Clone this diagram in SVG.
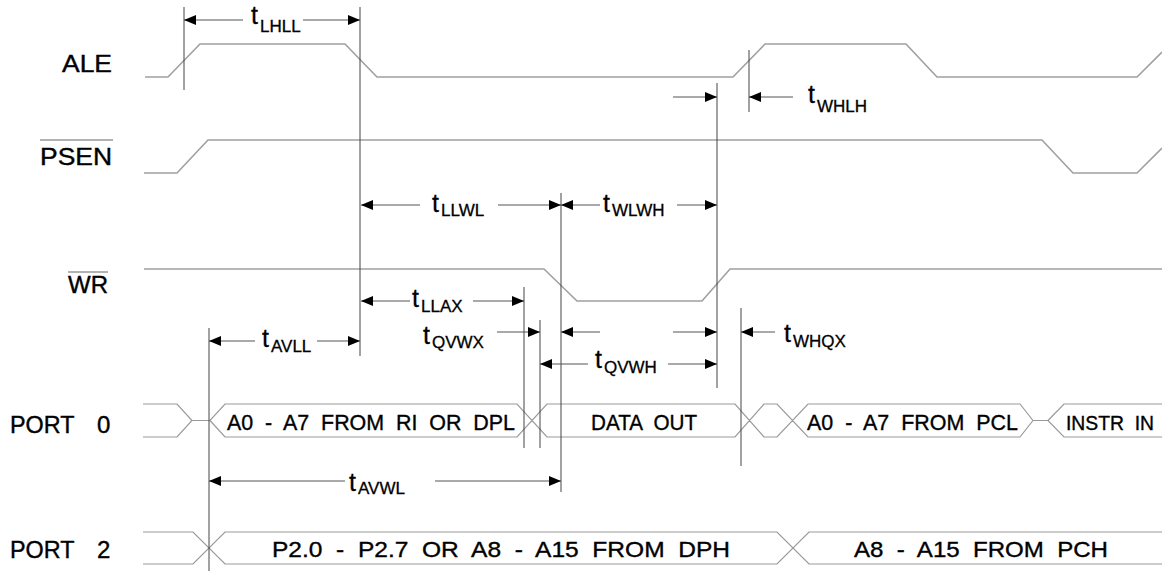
<svg xmlns="http://www.w3.org/2000/svg" width="1162" height="571" viewBox="0 0 1162 571">
<style>
.sig{fill:none;stroke:#a0a0a0;stroke-width:1.6}
.bus{fill:none;stroke:#999;stroke-width:1.2}
.vl{stroke:#444;stroke-width:1}
.sh{stroke:#555;stroke-width:1;fill:none}
.lbl{font-family:"Liberation Sans",Arial,sans-serif;font-size:24px;fill:#000;stroke:#000;stroke-width:0.4}
.bt{font-family:"Liberation Sans",Arial,sans-serif;font-size:22px;fill:#000;stroke:#000;stroke-width:0.35}
.t{font-family:"Liberation Sans",Arial,sans-serif;font-size:25px;fill:#000;stroke:#000;stroke-width:0.3}
.s{font-family:"Liberation Sans",Arial,sans-serif;font-size:17px;fill:#000;stroke:#000;stroke-width:0.3}
.ob{stroke:#999;stroke-width:1.5}
</style>
<defs>
<marker id="ah" markerUnits="userSpaceOnUse" markerWidth="12" markerHeight="10" refX="12" refY="5" orient="auto-start-reverse">
<path d="M0,0 L12,5 L0,10 z" fill="#000"/>
</marker>
</defs>
<rect width="1162" height="571" fill="#fff"/>

<g id="ALE">
<text class="lbl" x="112" y="72" text-anchor="end" textLength="50" lengthAdjust="spacingAndGlyphs">ALE</text>
<polyline class="sig" points="145,77 168,77 200,44 345,44 377,77 733,77 765,44 906,44 937,77 1137,77 1162,52"/>
</g>
<g id="PSEN">
<line class="ob" x1="40" y1="140" x2="113" y2="140"/>
<text class="lbl" x="40" y="165" textLength="72" lengthAdjust="spacingAndGlyphs">PSEN</text>
<polyline class="sig" points="144,173 177,173 208,140 1042,140 1073,173 1137,173 1162,148"/>
</g>
<g id="WR">
<line class="ob" x1="68" y1="272" x2="108" y2="272"/>
<text class="lbl" x="68" y="293" textLength="40" lengthAdjust="spacingAndGlyphs">WR</text>
<polyline class="sig" points="144,269 544,269 577,301 702,301 730,269 1162,269"/>
</g>
<g id="PORT0">
<text class="lbl" x="10" y="433"><tspan textLength="64" lengthAdjust="spacingAndGlyphs">PORT</tspan> <tspan x="97">0</tspan></text>
<path class="bus" d="M143,404 L177,404 L192,420.5 L177,437 L143,437 M192,420.5 L210,420.5 L225,404 L517,404 L547,437 L735,437 L764,404 L777,404 L808,437 L1020,437 L1033,420.5 L1048,420.5 L1064,437 L1162,437 M210,420.5 L225,437 L517,437 L547,404 L735,404 L764,437 L777,437 L808,404 L1020,404 L1033,420.5 M1048,420.5 L1064,404 L1162,404"/>
<text class="bt" x="227" y="430" textLength="288" lengthAdjust="spacingAndGlyphs" xml:space="preserve">A0  -  A7  FROM  RI  OR  DPL</text>
<text class="bt" x="591" y="430" textLength="106" lengthAdjust="spacingAndGlyphs" xml:space="preserve">DATA  OUT</text>
<text class="bt" x="807" y="430" textLength="211" lengthAdjust="spacingAndGlyphs" xml:space="preserve">A0  -  A7  FROM  PCL</text>
<text class="bt" x="1066" y="430" style="font-size:20px" textLength="88" lengthAdjust="spacingAndGlyphs" xml:space="preserve">INSTR  IN</text>
</g>
<g id="PORT2">
<text class="lbl" x="10" y="558"><tspan textLength="64" lengthAdjust="spacingAndGlyphs">PORT</tspan> <tspan x="97">2</tspan></text>
<path class="bus" d="M143,532 L193,532 L225,564 L777,564 L809,532 L1162,532 M143,564 L193,564 L225,532 L777,532 L809,564 L1162,564"/>
<text class="bt" x="272" y="557" textLength="458" lengthAdjust="spacingAndGlyphs" xml:space="preserve">P2.0  -  P2.7  OR  A8  -  A15  FROM  DPH</text>
<text class="bt" x="854" y="557" textLength="254" lengthAdjust="spacingAndGlyphs" xml:space="preserve">A8  -  A15  FROM  PCH</text>
</g>

<g id="connectors">
<line class="vl" x1="184" y1="7" x2="184" y2="90"/>
<line class="vl" x1="360" y1="7" x2="360" y2="356"/>
<line class="vl" x1="749" y1="50" x2="749" y2="112"/>
<line class="vl" x1="717" y1="83" x2="717" y2="388"/>
<line class="vl" x1="561" y1="193" x2="561" y2="492"/>
<line class="vl" x1="524" y1="287" x2="524" y2="448"/>
<line class="vl" x1="540" y1="320" x2="540" y2="448"/>
<line class="vl" x1="741" y1="308" x2="741" y2="466"/>
<line class="vl" x1="209" y1="328" x2="209" y2="571"/>

<line class="sh" x1="184" y1="20" x2="243" y2="20" marker-start="url(#ah)"/>
<line class="sh" x1="303" y1="20" x2="360" y2="20" marker-end="url(#ah)"/>
<line class="sh" x1="673" y1="97" x2="717" y2="97" marker-end="url(#ah)"/>
<line class="sh" x1="749" y1="97" x2="793" y2="97" marker-start="url(#ah)"/>
<line class="sh" x1="361" y1="205" x2="420" y2="205" marker-start="url(#ah)"/>
<line class="sh" x1="498" y1="205" x2="561" y2="205" marker-end="url(#ah)"/>
<line class="sh" x1="561" y1="205" x2="600" y2="205" marker-start="url(#ah)"/>
<line class="sh" x1="677" y1="205" x2="717" y2="205" marker-end="url(#ah)"/>
<line class="sh" x1="361" y1="301" x2="410" y2="301" marker-start="url(#ah)"/>
<line class="sh" x1="473" y1="301" x2="524" y2="301" marker-end="url(#ah)"/>
<line class="sh" x1="497" y1="332" x2="540" y2="332" marker-end="url(#ah)"/>
<line class="sh" x1="561" y1="332" x2="600" y2="332" marker-start="url(#ah)"/>
<line class="sh" x1="673" y1="332" x2="717" y2="332" marker-end="url(#ah)"/>
<line class="sh" x1="741" y1="332" x2="775" y2="332" marker-start="url(#ah)"/>
<line class="sh" x1="209" y1="341" x2="255" y2="341" marker-start="url(#ah)"/>
<line class="sh" x1="317" y1="341" x2="360" y2="341" marker-end="url(#ah)"/>
<line class="sh" x1="540" y1="364" x2="588" y2="364" marker-start="url(#ah)"/>
<line class="sh" x1="668" y1="364" x2="717" y2="364" marker-end="url(#ah)"/>
<line class="sh" x1="209" y1="481" x2="345" y2="481" marker-start="url(#ah)"/>
<line class="sh" x1="435" y1="481" x2="561" y2="481" marker-end="url(#ah)"/>
</g>

<g id="timing-labels">
<text class="t" x="251" y="24">t<tspan class="s" x="260" y="32">LHLL</tspan></text>
<text class="t" x="808" y="103">t<tspan class="s" x="817" y="112">WHLH</tspan></text>
<text class="t" x="432" y="212">t<tspan class="s" x="441" y="216">LLWL</tspan></text>
<text class="t" x="603" y="212">t<tspan class="s" x="612" y="216">WLWH</tspan></text>
<text class="t" x="412" y="307">t<tspan class="s" x="421" y="312">LLAX</tspan></text>
<text class="t" x="423" y="344">t<tspan class="s" x="432" y="348">QVWX</tspan></text>
<text class="t" x="784" y="342">t<tspan class="s" x="793" y="347">WHQX</tspan></text>
<text class="t" x="262" y="347">t<tspan class="s" x="271" y="352">AVLL</tspan></text>
<text class="t" x="595" y="368">t<tspan class="s" x="604" y="373">QVWH</tspan></text>
<text class="t" x="349" y="491">t<tspan class="s" x="358" y="494">AVWL</tspan></text>
</g>
</svg>
